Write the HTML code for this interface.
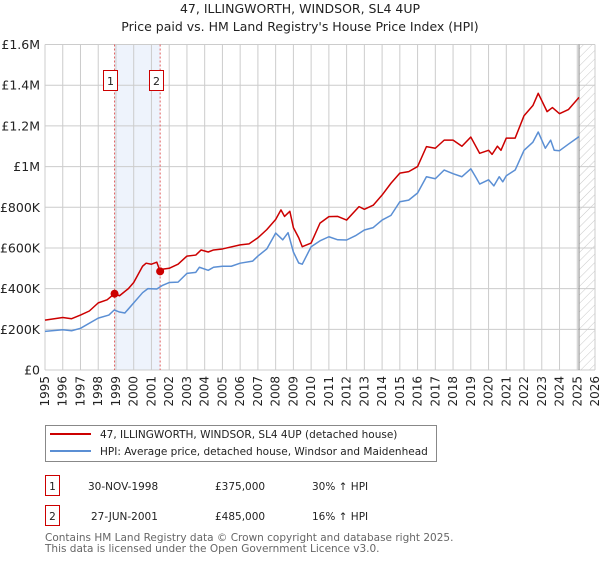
<!DOCTYPE html>
<html><head><meta charset="utf-8"><style>
body{margin:0;background:#fff;width:600px;height:560px;overflow:hidden;font-family:"DejaVu Sans","Liberation Sans",sans-serif}
svg text{font-family:"DejaVu Sans","Liberation Sans",sans-serif}
</style></head><body>
<svg id="chart" width="600" height="560" viewBox="0 0 600 560" xmlns="http://www.w3.org/2000/svg">
<defs><pattern id="hatch" width="6" height="6" patternUnits="userSpaceOnUse" patternTransform="rotate(45)"><line x1="0" y1="0" x2="0" y2="6" stroke="#bbb" stroke-width="0.8"/></pattern></defs>
<text x="300" y="13" text-anchor="middle" font-size="12.5" fill="#222">47, ILLINGWORTH, WINDSOR, SL4 4UP</text>
<text x="300" y="31" text-anchor="middle" font-size="12.5" fill="#222">Price paid vs. HM Land Registry's House Price Index (HPI)</text>
<g id="grid"></g><g id="marks"></g>
<g>
<rect x="45.5" y="425.5" width="391" height="36" fill="#fff" stroke="#888"/>
<line x1="50" y1="434" x2="91" y2="434" stroke="#cc0000" stroke-width="2"/>
<text x="100" y="438" font-size="10.5" fill="#222">47, ILLINGWORTH, WINDSOR, SL4 4UP (detached house)</text>
<line x1="50" y1="451" x2="91" y2="451" stroke="#5b8fd4" stroke-width="2"/>
<text x="100" y="455" font-size="10.5" fill="#222">HPI: Average price, detached house, Windsor and Maidenhead</text>
</g>
<g font-size="10.5" fill="#222">
<rect x="45.5" y="475.5" width="14" height="20" fill="#fff" stroke="#cc0000"/><text x="52.5" y="490" text-anchor="middle">1</text>
<text x="88" y="490">30-NOV-1998</text><text x="215" y="490">£375,000</text><text x="312" y="490">30% ↑ HPI</text>
<rect x="45.5" y="505.5" width="14" height="20" fill="#fff" stroke="#cc0000"/><text x="52.5" y="520" text-anchor="middle">2</text>
<text x="91" y="520">27-JUN-2001</text><text x="215" y="520">£485,000</text><text x="312" y="520">16% ↑ HPI</text>
</g>
<text x="45" y="541" font-size="10.5" fill="#666">Contains HM Land Registry data © Crown copyright and database right 2025.</text>
<text x="45" y="552" font-size="10.5" fill="#666">This data is licensed under the Open Government Licence v3.0.</text>
</svg>
<script>
const yTicks=[0,200000,400000,600000,800000,1000000,1200000,1400000,1600000];
const yTickLabels=["£0","£200K","£400K","£600K","£800K","£1M","£1.2M","£1.4M","£1.6M"];
const years=[1995,1996,1997,1998,1999,2000,2001,2002,2003,2004,2005,2006,2007,2008,2009,2010,2011,2012,2013,2014,2015,2016,2017,2018,2019,2020,2021,2022,2023,2024,2025,2026];
const redT=[1995,1996,1996.5,1997,1997.5,1998,1998.5,1998.92,1999.2,1999.7,2000,2000.5,2000.7,2001,2001.3,2001.49,2001.6,2002,2002.5,2003,2003.5,2003.8,2004.2,2004.5,2005,2006,2006.5,2007,2007.5,2008,2008.3,2008.5,2008.8,2009,2009.3,2009.5,2010,2010.5,2011,2011.5,2012,2012.7,2013,2013.5,2014,2014.5,2015,2015.5,2016,2016.5,2017,2017.5,2018,2018.5,2019,2019.5,2020,2020.2,2020.5,2020.7,2021,2021.5,2022,2022.5,2022.8,2023.3,2023.6,2024,2024.5,2025.1];
const redV=[245,258,252,270,290,330,345,375,365,400,430,510,525,520,530,485,495,500,520,560,565,590,580,590,595,615,620,650,690,740,787,755,780,700,650,606,624,722,754,755,737,803,790,810,860,918,968,975,1000,1098,1090,1130,1130,1100,1145,1065,1080,1060,1100,1080,1140,1140,1250,1300,1360,1270,1290,1260,1280,1340];
const blueT=[1995,1996,1996.5,1997,1998,1998.6,1998.9,1999.2,1999.5,2000,2000.5,2000.8,2001.3,2001.6,2002,2002.5,2003,2003.5,2003.7,2004.2,2004.5,2005,2005.5,2006,2006.7,2007,2007.5,2008,2008.4,2008.7,2009,2009.3,2009.5,2010,2010.5,2011,2011.5,2012,2012.5,2013,2013.5,2014,2014.5,2015,2015.5,2016,2016.5,2017,2017.5,2018,2018.5,2019,2019.3,2019.5,2020,2020.3,2020.6,2020.8,2021,2021.5,2022,2022.5,2022.8,2023.2,2023.5,2023.7,2024,2024.5,2025.1];
const blueV=[190,198,193,205,255,270,295,285,280,330,380,400,398,415,430,432,475,480,505,490,505,510,510,525,535,560,595,673,640,675,580,526,520,606,635,655,640,639,660,688,700,737,760,827,835,870,950,940,983,965,950,989,945,914,935,905,950,925,955,983,1080,1120,1170,1090,1130,1080,1078,1110,1147];
const sales=[{t:1998.92,v:375,label:"1"},{t:2001.49,v:485,label:"2"}];
const X0=45,X1=595,Y0=370,Y1=44.5;
const xs=t=>X0+(t-1995)/(2026-1995)*(X1-X0);
const ys=v=>Y0-v/1600000*(Y0-Y1);
const NS="http://www.w3.org/2000/svg";
function mk(tag,attrs,parent){const e=document.createElementNS(NS,tag);for(const k in attrs)e.setAttribute(k,attrs[k]);parent.appendChild(e);return e;}
const grid=document.getElementById('grid'),marks=document.getElementById('marks');
const sh=mk('rect',{x:xs(sales[0].t),y:Y1,width:xs(sales[1].t)-xs(sales[0].t),height:Y0-Y1,fill:'#eef3fc'},grid);


const ht=mk('rect',{x:xs(2025.1),y:Y1,width:X1-xs(2025.1),height:Y0-Y1,fill:'url(#hatch)'},grid);


years.forEach(y=>{
 const l=mk('line',{x1:xs(y),x2:xs(y),y1:Y1,y2:Y0,stroke:'#ccc','stroke-width':1},grid);
 
 
 const t=mk('text',{x:0,y:0,'font-size':12,fill:'#222','text-anchor':'end',transform:`translate(${xs(y)+4},${Y0+6}) rotate(-90)`},grid);
 
 
 t.textContent=y;
});
yTicks.forEach((v,i)=>{
 const l=mk('line',{x1:X0,x2:X1,y1:ys(v),y2:ys(v),stroke:'#ccc','stroke-width':1},grid);
 
 
 const t=mk('text',{x:40,y:ys(v)+4.5,'font-size':12.5,fill:'#222','text-anchor':'end'},grid);
 
 
 t.textContent=yTickLabels[i];
});
const nl=mk('line',{x1:xs(2025.1),x2:xs(2025.1),y1:Y1,y2:Y0,stroke:'#888','stroke-width':1},grid);


sales.forEach(s=>{
 const l=mk('line',{x1:xs(s.t),x2:xs(s.t),y1:Y1,y2:Y0,stroke:'#e06060','stroke-width':1,'stroke-dasharray':'2,2'},marks);
 
 
 const r=mk('rect',{x:Math.round(xs(s.t)-11.5)+0.5,y:70.5,width:14,height:20,fill:'#fff',stroke:'#cc0000'},marks);
 
 
 const t=mk('text',{x:Math.round(xs(s.t)-11.5)+7.5,y:85,'font-size':11,fill:'#222','text-anchor':'middle'},marks);
 
 
 t.textContent=s.label;
});
function line(T,V,col,name){
 const p=mk('polyline',{points:T.map((t,i)=>xs(t)+','+ys(V[i]*1000)).join(' '),fill:'none',stroke:col,'stroke-width':1.5,'stroke-linejoin':'round'},marks);
 
 
}
line(blueT,blueV,'#5b8fd4','hpi-line');
line(redT,redV,'#cc0000','property-price-line');
sales.forEach(s=>{
 const c=mk('circle',{cx:xs(s.t),cy:ys(s.v*1000),r:4,fill:'#cc0000'},marks);
 
 
});
</script>
</body></html>
